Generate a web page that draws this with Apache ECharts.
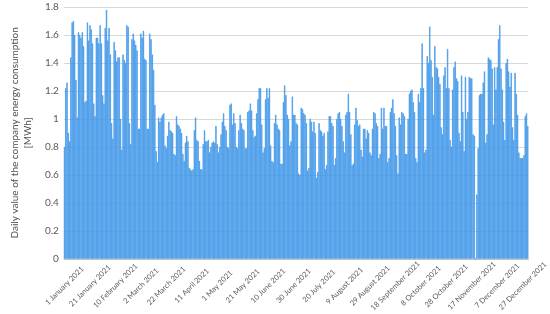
<!DOCTYPE html>
<html>
<head>
<meta charset="utf-8">
<script src="https://cdn.jsdelivr.net/npm/echarts@6/dist/echarts.min.js"></script>
<style>
html,body{margin:0;padding:0;background:#fff;}
#chart{width:550px;height:314px;}
</style>
</head>
<body>
<div id="chart"></div>
<script>
// Month names and lengths used to build the 365 daily categories of 2021
const monthNames = ['January','February','March','April','May','June','July','August','September','October','November','December'];
const monthDays = [31,28,31,30,31,30,31,31,30,31,30,31];
const dates = [];
monthNames.forEach(function(m, i){ for (let d = 1; d <= monthDays[i]; d++) dates.push(d + ' ' + m + ' 2021'); });

// Y axis ticks (MWh)
const yMin = 0, yMax = 1.8, yStep = 0.2;

// Daily energy consumption [MWh], 1 Jan .. 31 Dec 2021
const consumption = [
  0.80,1.22,1.26,0.90,0.84,1.44,1.69,
  1.70,1.60,1.28,1.01,1.62,1.60,1.58,
  1.62,1.52,1.12,1.13,1.69,1.56,1.67,
  1.64,1.54,1.11,1.02,1.58,1.58,1.54,
  1.67,1.54,1.17,1.11,1.65,1.78,1.56,
  1.65,1.46,0.97,0.86,1.55,1.49,1.41,
  1.44,1.44,1.00,0.78,1.46,1.42,1.40,
  1.67,1.66,0.97,0.82,1.57,1.61,1.56,
  1.53,1.49,0.93,0.93,1.61,1.58,1.63,
  1.43,1.42,0.93,0.93,1.61,1.57,1.46,
  1.35,1.10,0.77,0.69,1.01,0.98,1.01,
  1.03,1.04,0.81,0.79,0.88,0.98,0.92,
  0.91,0.90,0.75,0.74,1.02,0.96,0.95,
  0.93,0.90,0.75,0.70,0.83,0.88,0.84,
  0.65,0.64,0.63,0.64,0.92,1.01,0.85,
  0.84,0.70,0.64,0.64,0.82,0.92,0.84,
  0.84,0.85,0.76,0.80,0.83,0.84,0.83,
  0.95,0.82,0.76,0.80,0.89,0.98,1.04,
  0.95,0.92,0.80,0.79,1.10,1.11,0.96,
  1.04,0.97,0.80,0.79,0.92,1.03,0.97,
  0.93,0.92,0.79,0.79,1.05,1.06,1.11,
  1.06,0.92,0.87,0.88,1.04,1.14,1.22,
  1.22,0.96,0.76,0.79,1.14,1.22,1.15,
  1.22,0.81,0.70,0.69,0.97,1.03,0.96,
  0.93,0.92,0.68,0.68,1.12,1.24,1.17,
  1.03,1.00,0.81,0.84,1.16,1.03,1.03,
  0.97,0.96,0.61,0.60,1.08,1.07,1.04,
  1.03,0.97,0.63,0.65,1.00,0.98,0.91,
  0.98,0.90,0.58,0.62,0.97,0.92,0.91,
  0.88,0.90,0.64,0.67,0.91,1.02,1.02,
  0.97,0.95,0.67,0.72,1.00,1.04,1.05,
  1.00,0.95,0.84,0.76,1.03,1.05,1.18,
  1.05,0.89,0.67,0.68,0.96,1.08,0.99,
  0.95,0.96,0.78,0.73,0.93,0.93,0.86,
  0.92,0.90,0.76,0.74,0.93,1.05,1.04,
  0.97,0.95,0.72,0.75,1.08,0.93,1.08,
  0.95,0.95,0.69,0.72,1.05,1.08,1.14,
  1.04,0.95,0.74,0.61,1.01,0.96,1.05,
  1.04,1.02,0.75,0.75,1.00,1.18,1.20,
  1.21,1.12,1.05,0.72,0.69,1.18,1.12,
  1.22,1.54,1.22,0.76,0.78,1.45,1.40,
  1.66,1.42,1.30,1.03,1.52,1.37,1.36,
  1.30,1.25,0.94,0.89,1.31,1.37,1.22,
  1.50,1.22,0.85,0.80,1.21,1.37,1.41,
  1.29,1.27,0.90,0.84,1.31,1.05,0.77,
  1.30,1.00,1.05,1.30,1.29,1.29,0.89,
  0.88,0,0.46,0.79,1.17,1.18,1.18,
  1.26,1.34,0.83,0.89,1.44,1.43,1.42,
  1.36,0.96,1.37,1.21,1.37,1.57,1.67,
  1.36,1.21,0.98,0.85,1.40,1.43,1.34,
  1.23,1.33,0.94,0.85,1.33,1.18,1.03,
  0.76,0.72,0.72,0.72,0.74,1.02,1.04,
  0.95
];

const yTitle = 'Daily value of the company energy consumption\n[MWh]';

const chart = echarts.init(document.getElementById('chart'), null, {renderer:'canvas'});
chart.setOption({
  animation: false,
  backgroundColor: '#ffffff',
  textStyle: {fontFamily: 'Lato'},
  grid: {left: 41.5, right: 14.5, top: 7, bottom: 51},
  xAxis: {
    type: 'category',
    data: dates,
    boundaryGap: true,
    axisLine: {lineStyle: {color: '#bfbfbf', width: 1}},
    axisTick: {interval: 19, length: 4, lineStyle: {color: '#bfbfbf'}},
    axisLabel: {
      interval: 19, rotate: 45, fontSize: 7.5, color: '#595959', fontFamily: 'Lato',
      align: 'center', verticalAlign: 'middle', margin: 27
    },
    splitLine: {show: false}
  },
  yAxis: {
    type: 'value', min: yMin, max: yMax, interval: yStep,
    axisLine: {show: false}, axisTick: {show: false},
    axisLabel: {fontSize: 10, color: '#595959', margin: 5, fontFamily: 'Lato'},
    splitLine: {lineStyle: {color: '#d9d9d9', width: 1}},
    name: yTitle, nameLocation: 'middle', nameRotate: 90, nameGap: 21,
    nameTextStyle: {fontSize: 10, color: '#505050', lineHeight: 13, fontFamily: 'Lato'}
  },
  series: [{
    type: 'bar',
    data: consumption,
    barCategoryGap: '0%',
    itemStyle: {color: '#4298ea', borderColor: '#4298ea', borderWidth: 0.6}
  }]
});
</script>
</body>
</html>
